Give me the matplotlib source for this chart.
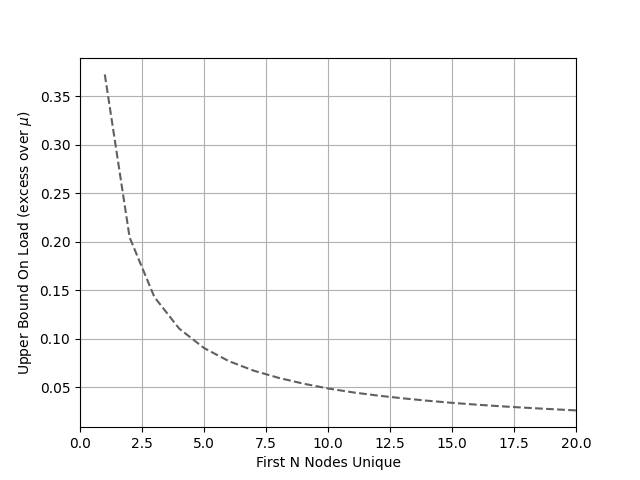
import matplotlib
matplotlib.use("Agg")
import matplotlib.pyplot as plt

n_nodes = list(range(1, 21))
upper_bound = [
    0.3725, 0.2045, 0.1430, 0.1105, 0.0905, 0.0770, 0.0672, 0.0598, 0.0538, 0.0488,
    0.0448, 0.0415, 0.0387, 0.0362, 0.0340, 0.0321, 0.0304, 0.0289, 0.0275, 0.0262,
]


def main():
    fig, ax = plt.subplots(figsize=(6.4, 4.8), dpi=100)
    ax.plot(n_nodes, upper_bound, linestyle="--", color="#606060")
    ax.set_xlim(0, 20)
    ax.set_xlabel("First N Nodes Unique")
    ax.set_ylabel(r"Upper Bound On Load (excess over $\mu$)")
    ax.grid(True, color="#b0b0b0")
    fig.savefig("out.png")
    plt.close(fig)


if __name__ == "__main__":
    main()
